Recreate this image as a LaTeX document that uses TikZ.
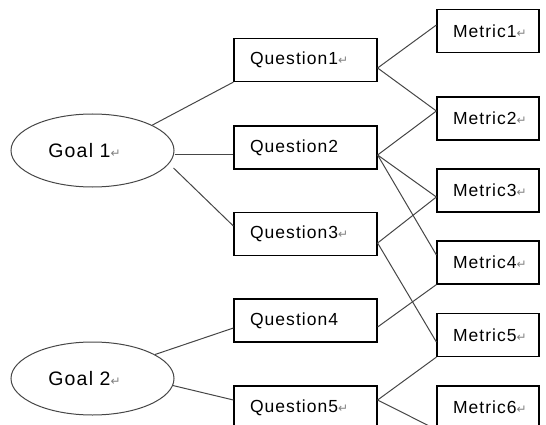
\documentclass[tikz,border=0pt]{standalone}
\usepackage{fontspec}
\setmainfont{Liberation Sans}[LetterSpace=6]
\newfontfamily\retfont{DejaVu Sans}
\usepackage{tikz}
\usetikzlibrary{shapes.geometric}
\definecolor{linegray}{RGB}{70,70,70}
\newcommand{\ret}{{\retfont\fontsize{12}{12}\selectfont\color{gray}\char"21B5}}
\tikzstyle{block} = [draw, rectangle, line width=1.2pt, minimum height=43pt, inner xsep=16pt, inner ysep=0pt, align=left, font=\fontsize{17.5}{20}\selectfont]
\tikzstyle{qblock} = [block, minimum width=143pt, text width=111pt]
\tikzstyle{mblock} = [block, minimum width=102pt, text width=70pt]
\tikzstyle{oval} = [draw=linegray, ellipse, line width=1pt, minimum width=163pt, minimum height=73pt, inner sep=0pt, font=\fontsize{19.5}{22}\selectfont]
\tikzstyle{link} = [draw=linegray, line width=1pt]

\begin{document}
\begin{tikzpicture}[x=1pt, y=-1pt]
	\useasboundingbox (0,0) rectangle (546,425);
	\node (GOAL_1) [oval] at (92.5,150.5) {Goal 1\ret\kern16pt};
	\node (GOAL_2) [oval] at (92.5,378.5) {Goal 2\ret\kern16pt};
	\node (Q_1) [qblock] at (305.5,60) {Question1\ret};
	\node (Q_2) [qblock] at (305.5,147.5) {Question2};
	\node (Q_3) [qblock] at (305.5,234) {Question3\ret};
	\node (Q_4) [qblock] at (305.5,320.5) {Question4};
	\node (Q_5) [qblock] at (305.5,407.5) {Question5\ret};
	\node (M_1) [mblock] at (488,31) {Metric1\ret};
	\node (M_2) [mblock] at (488,118.5) {Metric2\ret};
	\node (M_3) [mblock] at (488,190.5) {Metric3\ret};
	\node (M_4) [mblock] at (488,262.5) {Metric4\ret};
	\node (M_5) [mblock] at (488,335) {Metric5\ret};
	\node (M_6) [mblock] at (488,407.5) {Metric6\ret};

	\draw[link] (GOAL_1.23) -- (Q_1.south west);
	\draw[link] ([yshift=-4pt]GOAL_1.east) -- ([yshift=-4pt]GOAL_1.east -| Q_2.west);
	\draw[link] ([shift={(-1,17.5)}]GOAL_1.east) -- ([shift={(0,-8)}]Q_3.west);
	\draw[link] (GOAL_2.21) -- ([shift={(0,7.5)}]Q_4.west);
	\draw[link] (GOAL_2.-5) -- ([shift={(0,-7.5)}]Q_5.west);

	\draw[link] ([shift={(0,8)}]Q_1.east) -- ([shift={(0,-6)}]M_1.west);
	\draw[link] ([shift={(0,8)}]Q_1.east) -- ([shift={(0,-7.5)}]M_2.west);
	\draw[link] ([shift={(0,7.5)}]Q_2.east) -- ([shift={(0,-7.5)}]M_2.west);
	\draw[link] ([shift={(0,7.5)}]Q_2.east) -- ([shift={(0,6.5)}]M_3.west);
	\draw[link] ([shift={(0,7.5)}]Q_2.east) -- ([shift={(0,-7.5)}]M_4.west);
	\draw[link] ([shift={(0,9)}]Q_3.east) -- ([shift={(0,6.5)}]M_3.west);
	\draw[link] ([shift={(0,9)}]Q_3.east) -- ([shift={(0,7)}]M_5.west);
	\draw[link] ([shift={(0,6.5)}]Q_4.east) -- (M_4.south west);
	\draw[link] ([shift={(0,-7.5)}]Q_5.east) -- (M_5.south west);
	\draw[link] ([shift={(0,-7.5)}]Q_5.east) -- (M_6.south west);
\end{tikzpicture}
\end{document}
